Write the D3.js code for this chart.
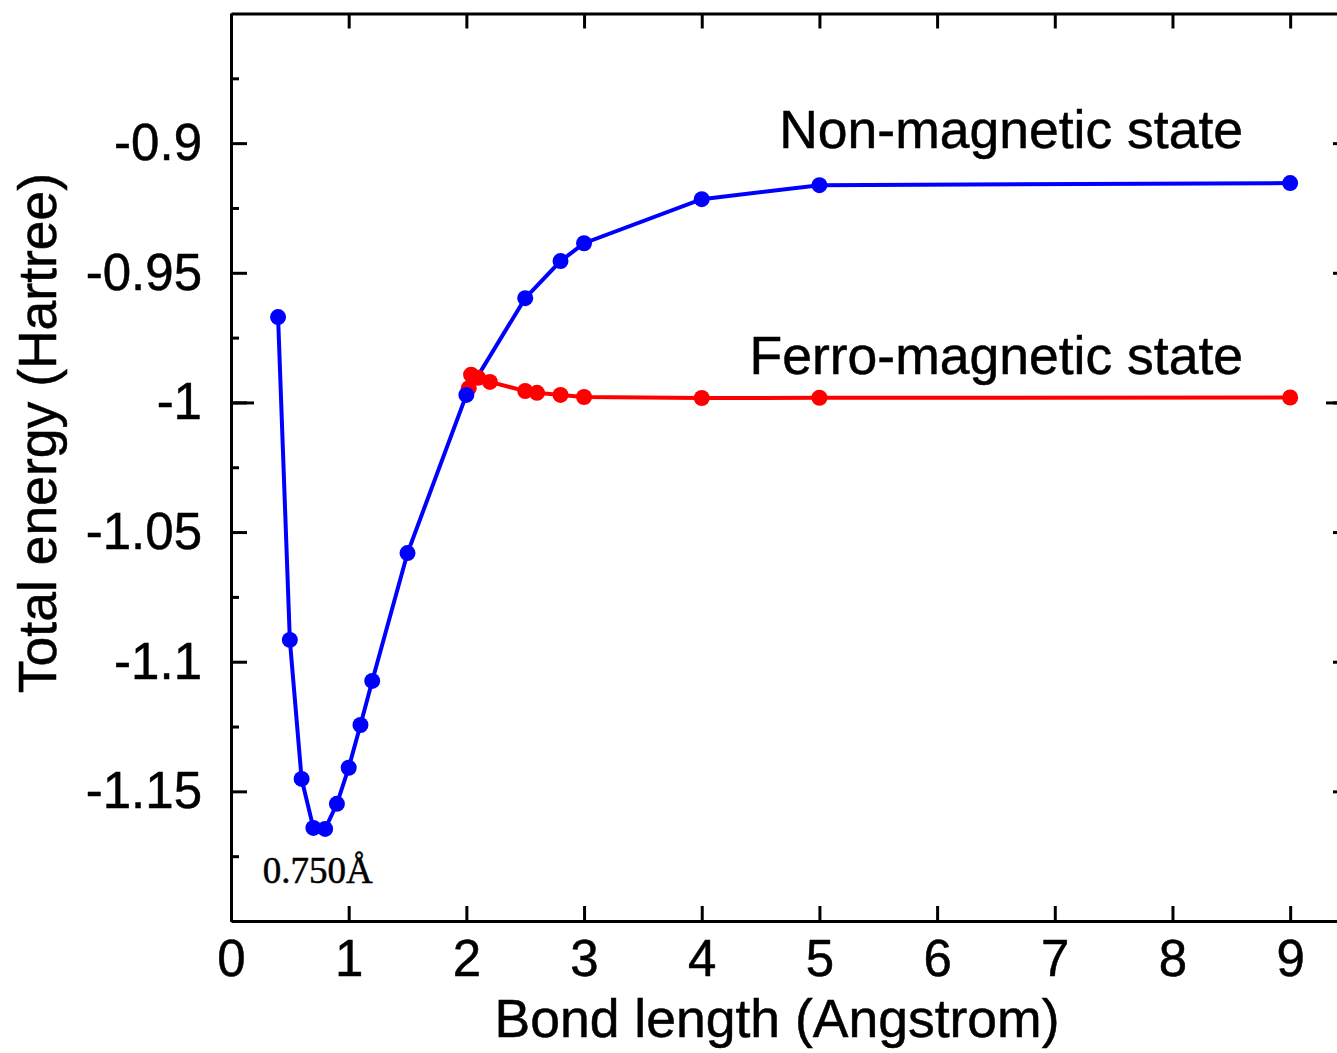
<!DOCTYPE html>
<html>
<head>
<meta charset="utf-8">
<script src="https://cdn.jsdelivr.net/npm/d3@7"></script>
<style>
  body { margin: 0; background: #fff; }
  svg { display: block; }
  .axis path, .axis line { stroke: #000; }
  .axis text { font-family: "Liberation Sans", Arial, sans-serif; fill: #000; }
  text { stroke: #000; stroke-width: 0.5; }
</style>
</head>
<body>
<svg id="visualization" width="1337" height="1053"></svg>
<script>
// bond length (Angstrom) vs total energy (Hartree)
const nonMagX = [0.4, 0.5, 0.6, 0.7, 0.8, 0.9, 1.0, 1.1, 1.2, 1.5, 2.0, 2.5, 2.8, 3.0, 4, 5, 9];
const nonMagY = [-0.9671, -1.0916, -1.1452, -1.1641, -1.1645, -1.1548, -1.1409, -1.1244, -1.1074,
                 -1.0581, -0.9971, -0.9598, -0.9455, -0.9386, -0.9216, -0.9162, -0.9154];

const ferroX = [2.02, 2.04, 2.1, 2.2, 2.5, 2.6, 2.8, 3.0, 4, 5, 9];
const ferroY = [-0.9945, -0.9893, -0.9905, -0.9921, -0.9956, -0.9963, -0.9971, -0.9979, -0.9983, -0.9982, -0.9981];

const xTicks = [0, 1, 2, 3, 4, 5, 6, 7, 8, 9];
const yTicks = [-1.15, -1.1, -1.05, -1, -0.95, -0.9];
const yTickLabels = ["-1.15", "-1.1", "-1.05", "-1", "-0.95", "-0.9"];
const yMinorTicks = [-1.175, -1.125, -1.075, -1.025, -0.975, -0.925, -0.875];
const yRefTicks = [-1];

const labels = [
    { text: "Non-magnetic state", x: 8.6, y: -0.902, anchor: "end", font: "Liberation Sans", size: 53.5 },
    { text: "Ferro-magnetic state", x: 8.6, y: -0.9891, anchor: "end", font: "Liberation Sans", size: 53.5 },
    { text: "0.750Å", x: 0.27, y: -1.1855, anchor: "start", font: "Liberation Serif", size: 37 }
];

const setupVisualization = () => {
    const margin = { top: 13.5, right: 1349, bottom: 921, left: 231 };

    const xScale = d3.scaleLinear()
        .domain([0, 9.5])
        .range([margin.left, margin.right]);
    const yScale = d3.scaleLinear()
        .domain([-1.2, -0.85])
        .range([margin.bottom, margin.top]);

    const svg = d3.select("#visualization");

    // axes, ticks pointing inward
    svg.append("g").attr("class", "axis")
        .attr("transform", `translate(0, ${margin.bottom})`)
        .call(d3.axisBottom(xScale).tickValues(xTicks).tickSizeInner(-15).tickSizeOuter(0).tickPadding(19))
        .call(g => g.selectAll("text").attr("font-size", 51));
    svg.append("g").attr("class", "axis")
        .attr("transform", `translate(0, ${margin.top})`)
        .call(d3.axisTop(xScale).tickValues(xTicks).tickSizeInner(-15).tickSizeOuter(0).tickFormat(""));

    svg.append("g").attr("class", "axis")
        .attr("transform", `translate(${margin.left}, 0)`)
        .call(d3.axisLeft(yScale).tickValues(yTicks).tickSizeInner(-16).tickSizeOuter(0).tickPadding(29)
            .tickFormat((d, i) => yTickLabels[i]))
        .call(g => g.selectAll("text").attr("font-size", 51));
    svg.append("g").attr("class", "axis")
        .attr("transform", `translate(${margin.left}, 0)`)
        .call(d3.axisLeft(yScale).tickValues(yMinorTicks).tickSizeInner(-8).tickSizeOuter(0).tickFormat(""));
    svg.append("g").attr("class", "axis")
        .attr("transform", `translate(${margin.left}, 0)`)
        .call(d3.axisLeft(yScale).tickValues(yRefTicks).tickSizeInner(-23).tickSizeOuter(0).tickFormat(""));

    svg.append("g").attr("class", "axis")
        .attr("transform", `translate(${margin.right}, 0)`)
        .call(d3.axisRight(yScale).tickValues(yTicks).tickSizeInner(-16).tickSizeOuter(0).tickFormat(""));
    svg.append("g").attr("class", "axis")
        .attr("transform", `translate(${margin.right}, 0)`)
        .call(d3.axisRight(yScale).tickValues(yRefTicks).tickSizeInner(-23).tickSizeOuter(0).tickFormat(""));

    svg.selectAll(".axis path").attr("stroke-width", 3);
    svg.selectAll(".axis line").attr("stroke-width", 3);

    // axis titles
    svg.append("text")
        .attr("x", 777)
        .attr("y", 1037)
        .attr("text-anchor", "middle")
        .attr("font-family", "Liberation Sans, Arial, sans-serif")
        .attr("font-size", 53.5)
        .text("Bond length (Angstrom)");
    svg.append("text")
        .attr("transform", "translate(56, 433) rotate(-90)")
        .attr("text-anchor", "middle")
        .attr("font-family", "Liberation Sans, Arial, sans-serif")
        .attr("font-size", 53.5)
        .text("Total energy (Hartree)");

    const nonMag = nonMagX.map((x, i) => ({ x: x, y: nonMagY[i] }));
    const ferro = ferroX.map((x, i) => ({ x: x, y: ferroY[i] }));

    const line = d3.line()
        .x(d => xScale(d.x))
        .y(d => yScale(d.y));

    svg.append("path")
        .datum(nonMag)
        .attr("d", line)
        .attr("fill", "none")
        .attr("stroke", "#0000ff")
        .attr("stroke-width", 4);
    svg.append("path")
        .datum(ferro)
        .attr("d", line)
        .attr("fill", "none")
        .attr("stroke", "#ff0000")
        .attr("stroke-width", 4);

    svg.selectAll(".ferro")
        .data(ferro)
        .join("circle")
        .attr("class", "ferro")
        .attr("r", 8)
        .attr("cx", d => xScale(d.x))
        .attr("cy", d => yScale(d.y))
        .attr("fill", "#ff0000");
    svg.selectAll(".nonmag")
        .data(nonMag)
        .join("circle")
        .attr("class", "nonmag")
        .attr("r", 8)
        .attr("cx", d => xScale(d.x))
        .attr("cy", d => yScale(d.y))
        .attr("fill", "#0000ff");

    svg.selectAll(".note")
        .data(labels)
        .join("text")
        .attr("class", "note")
        .attr("x", d => xScale(d.x))
        .attr("y", d => yScale(d.y))
        .attr("text-anchor", d => d.anchor)
        .attr("font-family", d => d.font)
        .attr("font-size", d => d.size)
        .attr("stroke-width", d => d.font === "Liberation Serif" ? 0 : 0.5)
        .text(d => d.text);
};

setupVisualization();
</script>
</body>
</html>
